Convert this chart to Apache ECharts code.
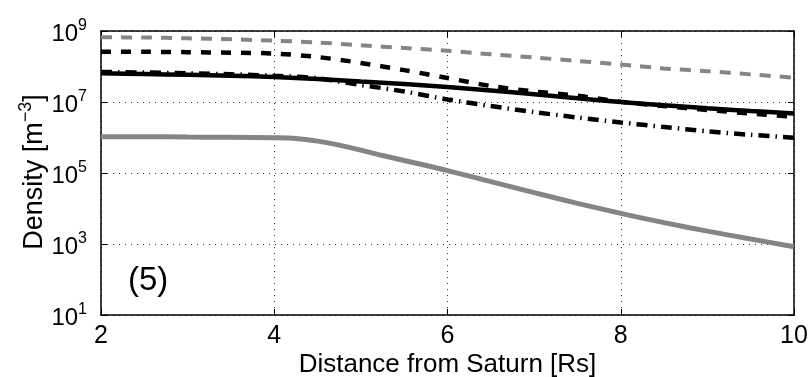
<!DOCTYPE html>
<html>
<head>
<meta charset="utf-8">
<script src="https://cdn.jsdelivr.net/npm/echarts@6/dist/echarts.min.js"></script>
<style>
html,body{margin:0;padding:0;background:#fff;}
#chart{width:810px;height:377px;}
</style>
</head>
<body>
<div id="chart"></div>
<script>
// Distance from Saturn [Rs]
const distance = [2, 2.5, 3, 3.5, 4, 4.5, 5, 5.5, 6, 6.5, 7, 7.5, 8, 8.5, 9, 9.5, 10];
// Density [m^-3] series
const grayDashed  = [6.64e8, 6.56e8, 6.23e8, 5.84e8, 5.33e8, 4.74e8, 3.96e8, 3.32e8, 2.77e8, 2.21e8, 1.79e8, 1.43e8, 1.14e8, 8.8e7, 7.4e7, 6.0e7, 4.84e7];
const blackDashed = [2.61e8, 2.60e8, 2.53e8, 2.45e8, 2.32e8, 1.85e8, 1.26e8, 7.9e7, 4.74e7, 2.83e7, 1.98e7, 1.50e7, 1.01e7, 7.7e6, 5.96e6, 4.74e6, 3.85e6];
const blackSolid  = [6.43e7, 6.15e7, 5.84e7, 5.47e7, 5.06e7, 4.45e7, 3.78e7, 3.21e7, 2.65e7, 2.11e7, 1.65e7, 1.27e7, 1.0e7, 8.07e6, 6.65e6, 5.57e6, 4.74e6];
const blackDashDot= [7.0e7, 6.78e7, 6.43e7, 6.03e7, 5.47e7, 4.66e7, 3.01e7, 1.98e7, 1.18e7, 7.7e6, 5.2e6, 3.66e6, 2.65e6, 1.98e6, 1.50e6, 1.19e6, 9.9e5];
// gray solid curve, read at finer spacing around its bend
const graySolidDistance = [2, 2.5, 3, 3.5, 4, 4.25, 4.5, 4.75, 5, 5.25, 5.5, 6, 6.5, 7, 7.5, 8, 8.5, 9, 9.5, 10];
const graySolid   = [1.05e6, 1.05e6, 1.03e6, 1.01e6, 9.8e5, 9.4e5, 7.9e5, 6.1e5, 4.4e5, 3.1e5, 2.25e5, 1.17e5, 5.7e4, 2.8e4, 1.4e4, 7.3e3, 4.0e3, 2.3e3, 1.38e3, 8.4e2];
// Tick labels
const xTicks = [2, 4, 6, 8, 10];
const yTickExponents = [1, 3, 5, 7, 9];

const FONT = 'Liberation Sans, Arial, Helvetica, sans-serif';
const toPts = (xs, arr) => xs.map((x, i) => [x, Math.log10(arr[i])]);

const chart = echarts.init(document.getElementById('chart'), null, {renderer: 'canvas'});
const gridDotted = {show: true, lineStyle: {color: '#333', width: 1, type: [1, 5]}};
const axisLineStyle = {show: true, onZero: false, lineStyle: {color: '#000', width: 1.5}};
const tick = {show: true, inside: true, length: 6, lineStyle: {color: '#000', width: 1}};

chart.setOption({
  animation: false,
  backgroundColor: '#fff',
  grid: {left: 101, right: 16, top: 31, bottom: 62, outerBoundsMode: 'none'},
  xAxis: [{
    type: 'value', min: xTicks[0], max: xTicks[xTicks.length - 1], interval: 2,
    position: 'bottom',
    axisLine: axisLineStyle, axisTick: tick, splitLine: gridDotted,
    axisLabel: {color: '#000', fontFamily: FONT, fontSize: 25, margin: 9},
    name: 'Distance from Saturn [Rs]', nameLocation: 'middle', nameGap: 37, nameMoveOverlap: false,
    nameTextStyle: {color: '#000', fontFamily: FONT, fontSize: 26}
  }, {
    type: 'value', min: xTicks[0], max: xTicks[xTicks.length - 1], interval: 2,
    position: 'top',
    axisLine: axisLineStyle, axisTick: tick, splitLine: {show: false},
    axisLabel: {show: false}
  }],
  yAxis: [{
    type: 'value', min: yTickExponents[0], max: yTickExponents[yTickExponents.length - 1], interval: 2,
    position: 'left',
    axisLine: axisLineStyle, axisTick: tick, splitLine: gridDotted,
    axisLabel: {
      margin: 14,
      formatter: v => '{b|10}{s|' + v + '}',
      rich: {
        b: {color: '#000', fontFamily: FONT, fontSize: 24, padding: [7, 0, 0, 0]},
        s: {color: '#000', fontFamily: FONT, fontSize: 16, padding: [0, 0, 11, 0]}
      }
    },
    name: '{t|Density [m}{s|\u22123}{t|]}', nameLocation: 'middle', nameGap: 53, nameRotate: 90,
    nameMoveOverlap: false,
    nameTextStyle: {
      padding: [0, 0, 0, 2],
      rich: {
        t: {color: '#000', fontFamily: FONT, fontSize: 27, padding: [6, 0, 0, 0]},
        s: {color: '#000', fontFamily: FONT, fontSize: 18, padding: [0, 0, 11, 0]}
      }
    }
  }, {
    type: 'value', min: yTickExponents[0], max: yTickExponents[yTickExponents.length - 1], interval: 2,
    position: 'right',
    axisLine: axisLineStyle, axisTick: tick, splitLine: {show: false},
    axisLabel: {show: false}
  }],
  graphic: [{
    type: 'text', left: 128, top: 264, z: 100,
    style: {text: '(5)', font: '33px ' + FONT, fill: '#000'}
  }],
  series: [
    {type: 'line', data: toPts(distance, grayDashed), showSymbol: false, symbol: 'none', smooth: 0.3,
     lineStyle: {color: '#858585', width: 4, type: [11, 9]}},
    {type: 'line', data: toPts(distance, blackDashed), showSymbol: false, symbol: 'none', smooth: 0.3,
     lineStyle: {color: '#000', width: 4.5, type: [10, 10]}},
    {type: 'line', data: toPts(distance, blackSolid), showSymbol: false, symbol: 'none', smooth: 0.3,
     lineStyle: {color: '#000', width: 4.5}},
    {type: 'line', data: toPts(distance, blackDashDot), showSymbol: false, symbol: 'none', smooth: 0.3,
     lineStyle: {color: '#000', width: 4.5, type: [11, 6, 1.5, 6]}},
    {type: 'line', data: toPts(graySolidDistance, graySolid), showSymbol: false, symbol: 'none', smooth: 0.3,
     lineStyle: {color: '#858585', width: 5}}
  ]
});
</script>
</body>
</html>
